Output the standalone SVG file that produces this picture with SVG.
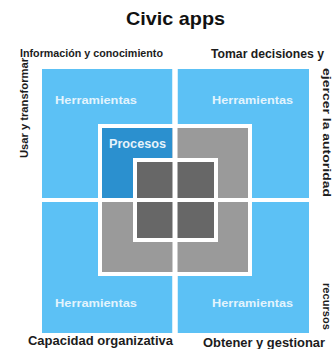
<svg xmlns="http://www.w3.org/2000/svg" width="333" height="349" viewBox="0 0 333 349">
<style>
  text { font-family: "Liberation Sans", Arial, sans-serif; font-weight: bold; }
  .lbl { fill: #1c1c1c; }
  .tool { fill: #e3f4fd; font-size: 11px; }
  .q { fill: #5cc1f5; }
  .wb { fill: #ffffff; }
  .grey { fill: #9a9a9a; }
  .dark { fill: #676767; }
  .proc { fill: #2b90cf; }
</style>
<rect x="0" y="0" width="333" height="349" fill="#ffffff"/>
<g id="title"><text x="175.5" y="24.5" text-anchor="middle" font-size="18.5" fill="#111" textLength="99" lengthAdjust="spacingAndGlyphs">Civic apps</text></g>

<g id="quadrant-tl"><rect class="q" x="42" y="69" width="130.5" height="129"/><text class="tool" x="55" y="104" textLength="82" lengthAdjust="spacingAndGlyphs">Herramientas</text></g>
<g id="quadrant-tr"><rect class="q" x="177.5" y="69" width="131.5" height="129"/><text class="tool" x="212" y="104" textLength="81" lengthAdjust="spacingAndGlyphs">Herramientas</text></g>
<g id="quadrant-bl"><rect class="q" x="42" y="202" width="130.5" height="131"/><text class="tool" x="55" y="307" textLength="82" lengthAdjust="spacingAndGlyphs">Herramientas</text></g>
<g id="quadrant-br"><rect class="q" x="177.5" y="202" width="131.5" height="131"/><text class="tool" x="212" y="307" textLength="81" lengthAdjust="spacingAndGlyphs">Herramientas</text></g>

<g id="procesos-layer">
  <rect class="wb" x="98" y="124" width="154" height="152"/>
  <rect class="grey" x="102" y="128" width="146" height="144"/>
  <rect class="proc" x="102" y="128" width="70.5" height="70"/>
  <text x="109" y="148" font-size="12.5" fill="#e6f3fb" textLength="57" lengthAdjust="spacingAndGlyphs">Procesos</text>
</g>
<g id="core">
  <rect class="wb" x="133" y="158" width="85" height="84"/>
  <rect class="dark" x="137" y="162" width="77" height="76"/>
</g>
<g id="dividers">
  <rect class="wb" x="172.5" y="69" width="5" height="264"/>
  <rect class="wb" x="42" y="198" width="267" height="4"/>
</g>

<g id="labels">
  <text class="lbl" x="20" y="57" font-size="10" textLength="143" lengthAdjust="spacingAndGlyphs">Información y conocimiento</text>
  <text class="lbl" x="211" y="57.5" font-size="12" textLength="113" lengthAdjust="spacingAndGlyphs">Tomar decisiones y</text>
  <text class="lbl" transform="translate(27.5,108) rotate(-90)" x="0" y="0" text-anchor="middle" font-size="11" textLength="100" lengthAdjust="spacingAndGlyphs">Usar y transformar</text>
  <text class="lbl" transform="translate(323,68) rotate(90)" x="0" y="0" font-size="11.5" textLength="129" lengthAdjust="spacingAndGlyphs">ejercer la autoridad</text>
  <text class="lbl" transform="translate(323,283) rotate(90)" x="0" y="0" font-size="11" textLength="47" lengthAdjust="spacingAndGlyphs">recursos</text>
  <text class="lbl" x="28" y="345" font-size="12" textLength="145" lengthAdjust="spacingAndGlyphs">Capacidad organizativa</text>
  <text class="lbl" x="203" y="347" font-size="12" textLength="122" lengthAdjust="spacingAndGlyphs">Obtener y gestionar</text>
</g>
</svg>
